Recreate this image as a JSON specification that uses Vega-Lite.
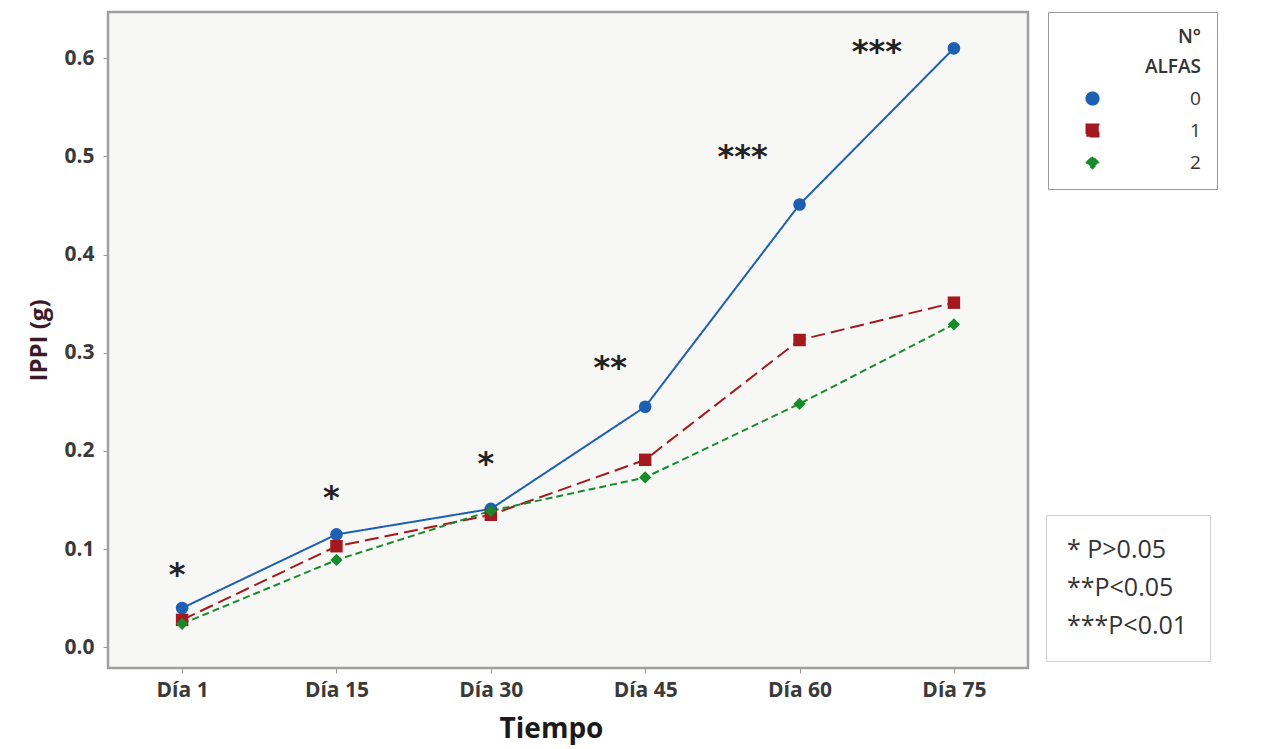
{
  "$schema": "https://vega.github.io/schema/vega-lite/v6.json",
  "autosize": {"type": "none"},
  "padding": {"left": 108, "top": 12, "right": 237, "bottom": 81},
  "width": 920,
  "height": 656,
  "background": "white",
  "config": {
    "font": "Open Sans",
    "view": {"fill": "#f7f8f5", "stroke": "#a0a0a0", "strokeWidth": 2.5},
    "axis": {"grid": false, "domain": false, "tickColor": "#999999", "tickSize": 5, "labelFont": "Open Sans", "labelFontWeight": "bold", "labelColor": "#3a3a3a", "labelFontSize": 21, "titleFont": "Open Sans", "titleFontWeight": "bold"}
  },
  "datasets": {
    "series": [
      {"dia": "Día 1", "alfas": "0", "ippi": 0.040},
      {"dia": "Día 15", "alfas": "0", "ippi": 0.115},
      {"dia": "Día 30", "alfas": "0", "ippi": 0.141},
      {"dia": "Día 45", "alfas": "0", "ippi": 0.245},
      {"dia": "Día 60", "alfas": "0", "ippi": 0.451},
      {"dia": "Día 75", "alfas": "0", "ippi": 0.610},
      {"dia": "Día 1", "alfas": "1", "ippi": 0.028},
      {"dia": "Día 15", "alfas": "1", "ippi": 0.103},
      {"dia": "Día 30", "alfas": "1", "ippi": 0.135},
      {"dia": "Día 45", "alfas": "1", "ippi": 0.191},
      {"dia": "Día 60", "alfas": "1", "ippi": 0.313},
      {"dia": "Día 75", "alfas": "1", "ippi": 0.351},
      {"dia": "Día 1", "alfas": "2", "ippi": 0.024},
      {"dia": "Día 15", "alfas": "2", "ippi": 0.089},
      {"dia": "Día 30", "alfas": "2", "ippi": 0.139},
      {"dia": "Día 45", "alfas": "2", "ippi": 0.173},
      {"dia": "Día 60", "alfas": "2", "ippi": 0.248},
      {"dia": "Día 75", "alfas": "2", "ippi": 0.329}
    ],
    "stars": [
      {"dia": "Día 1", "y": 0.074, "sig": "*"},
      {"dia": "Día 15", "y": 0.152, "sig": "*"},
      {"dia": "Día 30", "y": 0.187, "sig": "*"},
      {"dia": "Día 45", "y": 0.284, "sig": "**"},
      {"dia": "Día 60", "y": 0.499, "sig": "***"},
      {"dia": "Día 75", "y": 0.606, "sig": "***"}
    ],
    "notes": [
      {"note": "* P>0.05"},
      {"note": "**P<0.05"},
      {"note": "***P<0.01"}
    ]
  },
  "encoding": {
    "x": {"field": "dia", "type": "ordinal", "sort": ["Día 1", "Día 15", "Día 30", "Día 45", "Día 60", "Día 75"],
      "scale": {"type": "point", "padding": 0.48},
      "axis": {"title": "Tiempo", "titleFontSize": 28, "titleColor": "#1a1a1a", "titlePadding": 15, "titleX": 443, "labelAngle": 0, "labelPadding": 6}}
  },
  "layer": [
    {
      "data": {"name": "series"},
      "mark": {"type": "line", "strokeWidth": 2},
      "encoding": {
        "y": {"field": "ippi", "type": "quantitative",
          "scale": {"domain": [-0.021, 0.647], "nice": false, "zero": false},
          "axis": {"title": "IPPI (g)", "titleFontSize": 24, "titleColor": "#3b1a2a", "titlePadding": 12, "values": [0, 0.1, 0.2, 0.3, 0.4, 0.5, 0.6], "format": ".1f", "labelPadding": 9}},
        "color": {"field": "alfas", "type": "nominal", "title": ["N°", "ALFAS"], "scale": {"domain": ["0", "1", "2"], "range": ["#1d5fb3", "#a3191d", "#178a2b"]}},
        "strokeDash": {"field": "alfas", "type": "nominal", "scale": {"domain": ["0", "1", "2"], "range": [[1, 0], [14, 6], [7, 4]]}, "legend": null}
      }
    },
    {
      "data": {"name": "series"},
      "mark": {"type": "point", "filled": true, "opacity": 1},
      "encoding": {
        "y": {"field": "ippi", "type": "quantitative"},
        "size": {"field": "alfas", "type": "nominal", "scale": {"domain": ["0", "1", "2"], "range": [160, 150, 240]}, "legend": null},
        "color": {"field": "alfas", "type": "nominal", "title": ["N°", "ALFAS"],
          "legend": {
            "orient": "none", "legendX": 940, "legendY": 0,
            "strokeColor": "#9a9a9a", "fillColor": "white",
            "padding": 16, "titleFontSize": 19, "titleFontWeight": 600, "titleColor": "#333333",
            "titleAnchor": "end", "titleAlign": "right", "titleLineHeight": 30, "titlePadding": 12,
            "labelFontSize": 19, "labelColor": "#333333", "labelOffset": 88,
            "symbolSize": 110, "symbolOffset": 19, "rowPadding": 12,
            "encode": {
              "legend": {"strokeWidth": {"value": 2}}
            }
          }},
        "shape": {"field": "alfas", "type": "nominal", "legend": null, "scale": {"domain": ["0", "1", "2"], "range": ["circle", "square", "diamond"]}}
      }
    },
    {
      "data": {"name": "stars"},
      "transform": [{"filter": "datum.dia === 'Día 1' || datum.dia === 'Día 15' || datum.dia === 'Día 30'"}],
      "mark": {"type": "text", "fontSize": 32, "font": "DejaVu Sans", "fontWeight": "bold", "color": "#222222", "dx": -5, "baseline": "middle"},
      "encoding": {"y": {"field": "y", "type": "quantitative"}, "text": {"field": "sig"}}
    },
    {
      "data": {"name": "stars"},
      "transform": [{"filter": "datum.dia === 'Día 45'"}],
      "mark": {"type": "text", "fontSize": 32, "font": "DejaVu Sans", "fontWeight": "bold", "color": "#222222", "dx": -35, "baseline": "middle", "letterSpacing": 2},
      "encoding": {"y": {"field": "y", "type": "quantitative"}, "text": {"field": "sig"}}
    },
    {
      "data": {"name": "stars"},
      "transform": [{"filter": "datum.dia === 'Día 60'"}],
      "mark": {"type": "text", "fontSize": 32, "font": "DejaVu Sans", "fontWeight": "bold", "color": "#222222", "dx": -57, "baseline": "middle", "letterSpacing": 4},
      "encoding": {"y": {"field": "y", "type": "quantitative"}, "text": {"field": "sig"}}
    },
    {
      "data": {"name": "stars"},
      "transform": [{"filter": "datum.dia === 'Día 75'"}],
      "mark": {"type": "text", "fontSize": 32, "font": "DejaVu Sans", "fontWeight": "bold", "color": "#222222", "dx": -77, "baseline": "middle", "letterSpacing": 4},
      "encoding": {"y": {"field": "y", "type": "quantitative"}, "text": {"field": "sig"}}
    },
    {
      "data": {"name": "notes"},
      "mark": {"type": "point", "filled": true, "opacity": 0},
      "encoding": {
        "x": {"value": 0}, "y": {"value": 0},
        "fill": {"field": "note", "type": "nominal", "sort": null, "scale": {"range": ["white", "white", "white"]},
          "legend": {"orient": "none", "legendX": 938, "legendY": 503, "title": null,
            "strokeColor": "#d0d0d0", "fillColor": "white",
            "padding": 22, "symbolOpacity": 0, "symbolSize": 1, "labelOffset": -26,
            "labelFontSize": 25, "labelColor": "#333333", "rowPadding": 12,
            "encode": {"legend": {"strokeWidth": {"value": 1.5}}}}}
      }
    }
  ]
}
